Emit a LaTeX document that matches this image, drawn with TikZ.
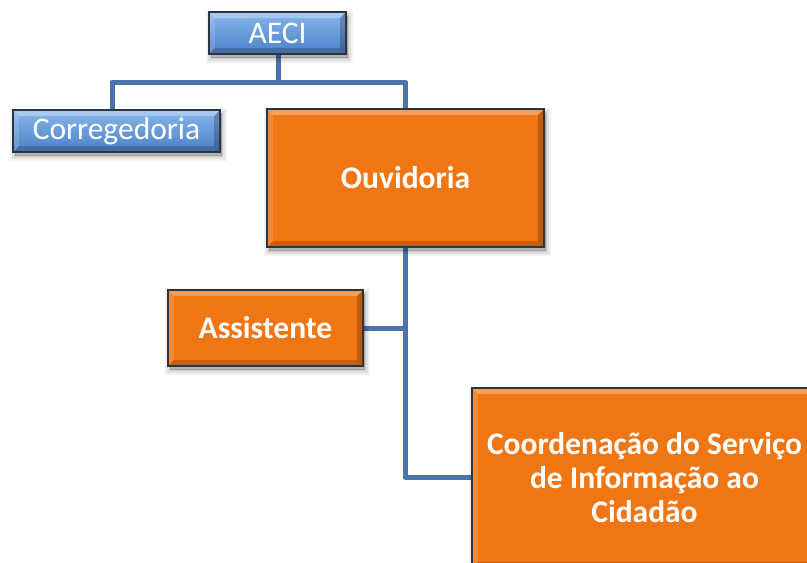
\documentclass[tikz,border=0pt]{standalone}
\usepackage{fontspec}
\setmainfont{Carlito}
\usetikzlibrary{calc}
\pgfdeclarelayer{background}
\pgfsetlayers{background,main}
\definecolor{linkblue}{HTML}{4A74AB}
\definecolor{boxorange}{HTML}{F07513}
\definecolor{bluetop}{HTML}{86B6EC}
\definecolor{bluebot}{HTML}{4C80C6}
\definecolor{edgedark}{HTML}{2C3442}
\tikzset{
  bevel/.style={path picture={
    \path (path picture bounding box.south west) coordinate (pSW)
          (path picture bounding box.north east) coordinate (pNE);
    \path (pSW|-pNE) coordinate (pNW) (pNE|-pSW) coordinate (pSE);
    \fill[white,opacity=.30] (pNW) -- (pNE) -- ([shift={(-6pt,-6pt)}]pNE) -- ([shift={(6pt,-6pt)}]pNW) -- cycle;
    \fill[white,opacity=.15] (pNW) -- ([shift={(6pt,-6pt)}]pNW) -- ([shift={(6pt,6pt)}]pSW) -- (pSW) -- cycle;
    \fill[black,opacity=.18] (pSW) -- ([shift={(6pt,6pt)}]pSW) -- ([shift={(-6pt,6pt)}]pSE) -- (pSE) -- cycle;
    \fill[black,opacity=.22] (pSE) -- ([shift={(-6pt,6pt)}]pSE) -- ([shift={(-6pt,-6pt)}]pNE) -- (pNE) -- cycle;
  }},
  softshadow/.style={
    preaction={draw=black, draw opacity=.05, line width=10pt, transform canvas={shift={(1.5pt,-4pt)}}},
    preaction={draw=black, draw opacity=.07, line width=6pt, transform canvas={shift={(1.5pt,-4pt)}}},
    preaction={draw=black, fill=black, draw opacity=.09, fill opacity=.2, line width=2pt, transform canvas={shift={(1.5pt,-4pt)}}}},
  basebox/.style={rectangle, draw=edgedark, line width=1.6pt, inner sep=0pt,
    text=white, align=center, font=\fontsize{31.5}{34}\selectfont,
    softshadow, bevel},
  bluebox/.style={basebox, top color=bluetop, bottom color=bluebot},
  orangebox/.style={basebox, fill=boxorange, font=\fontsize{31.5}{34}\selectfont\bfseries},
  link/.style={draw=linkblue, line width=5pt, line join=round, line cap=butt}
}
\begin{document}
\begin{tikzpicture}[x=1pt,y=1pt]
\useasboundingbox (0,0) rectangle (807,-563);
\clip (0,0) rectangle (807,-563);
\begin{pgfonlayer}{background}
\fill[white] (0,0) rectangle (807,-563);
\end{pgfonlayer}

% connector junction points
\coordinate (jTop) at (278,-82);
\coordinate (jL) at (112,-82);
\coordinate (jR) at (405,-82);
\coordinate (jA) at (405,-328);
\coordinate (jB) at (405,-477);

% nodes
\path
  (277.5,-33) node[bluebox, minimum width=137, minimum height=42] (aeci) {AECI}
  (116.5,-131) node[bluebox, minimum width=207, minimum height=42] (corr) {Corregedoria}
  (405.5,-178) node[orangebox, minimum width=277, minimum height=138] (ouv) {Ouvidoria}
  (265.5,-328) node[orangebox, minimum width=195, minimum height=76] (assist) {Assistente}
  (644.5,-478) node[orangebox, minimum width=345, minimum height=180] (coord) {Coordenação do Serviço\\de Informação ao\\Cidadão};

% connectors behind boxes
\begin{pgfonlayer}{background}
\draw[link] (jTop|-aeci.south) -- (jTop);
\draw[link] (jL|-corr.north) -- (jL) -- (jR) -- (jR|-ouv.north);
\draw[link] (jR|-ouv.south) -- (jB) -- (jB-|coord.west);
\draw[link] (assist.east|-jA) -- (jA);
\end{pgfonlayer}
\end{tikzpicture}
\end{document}
